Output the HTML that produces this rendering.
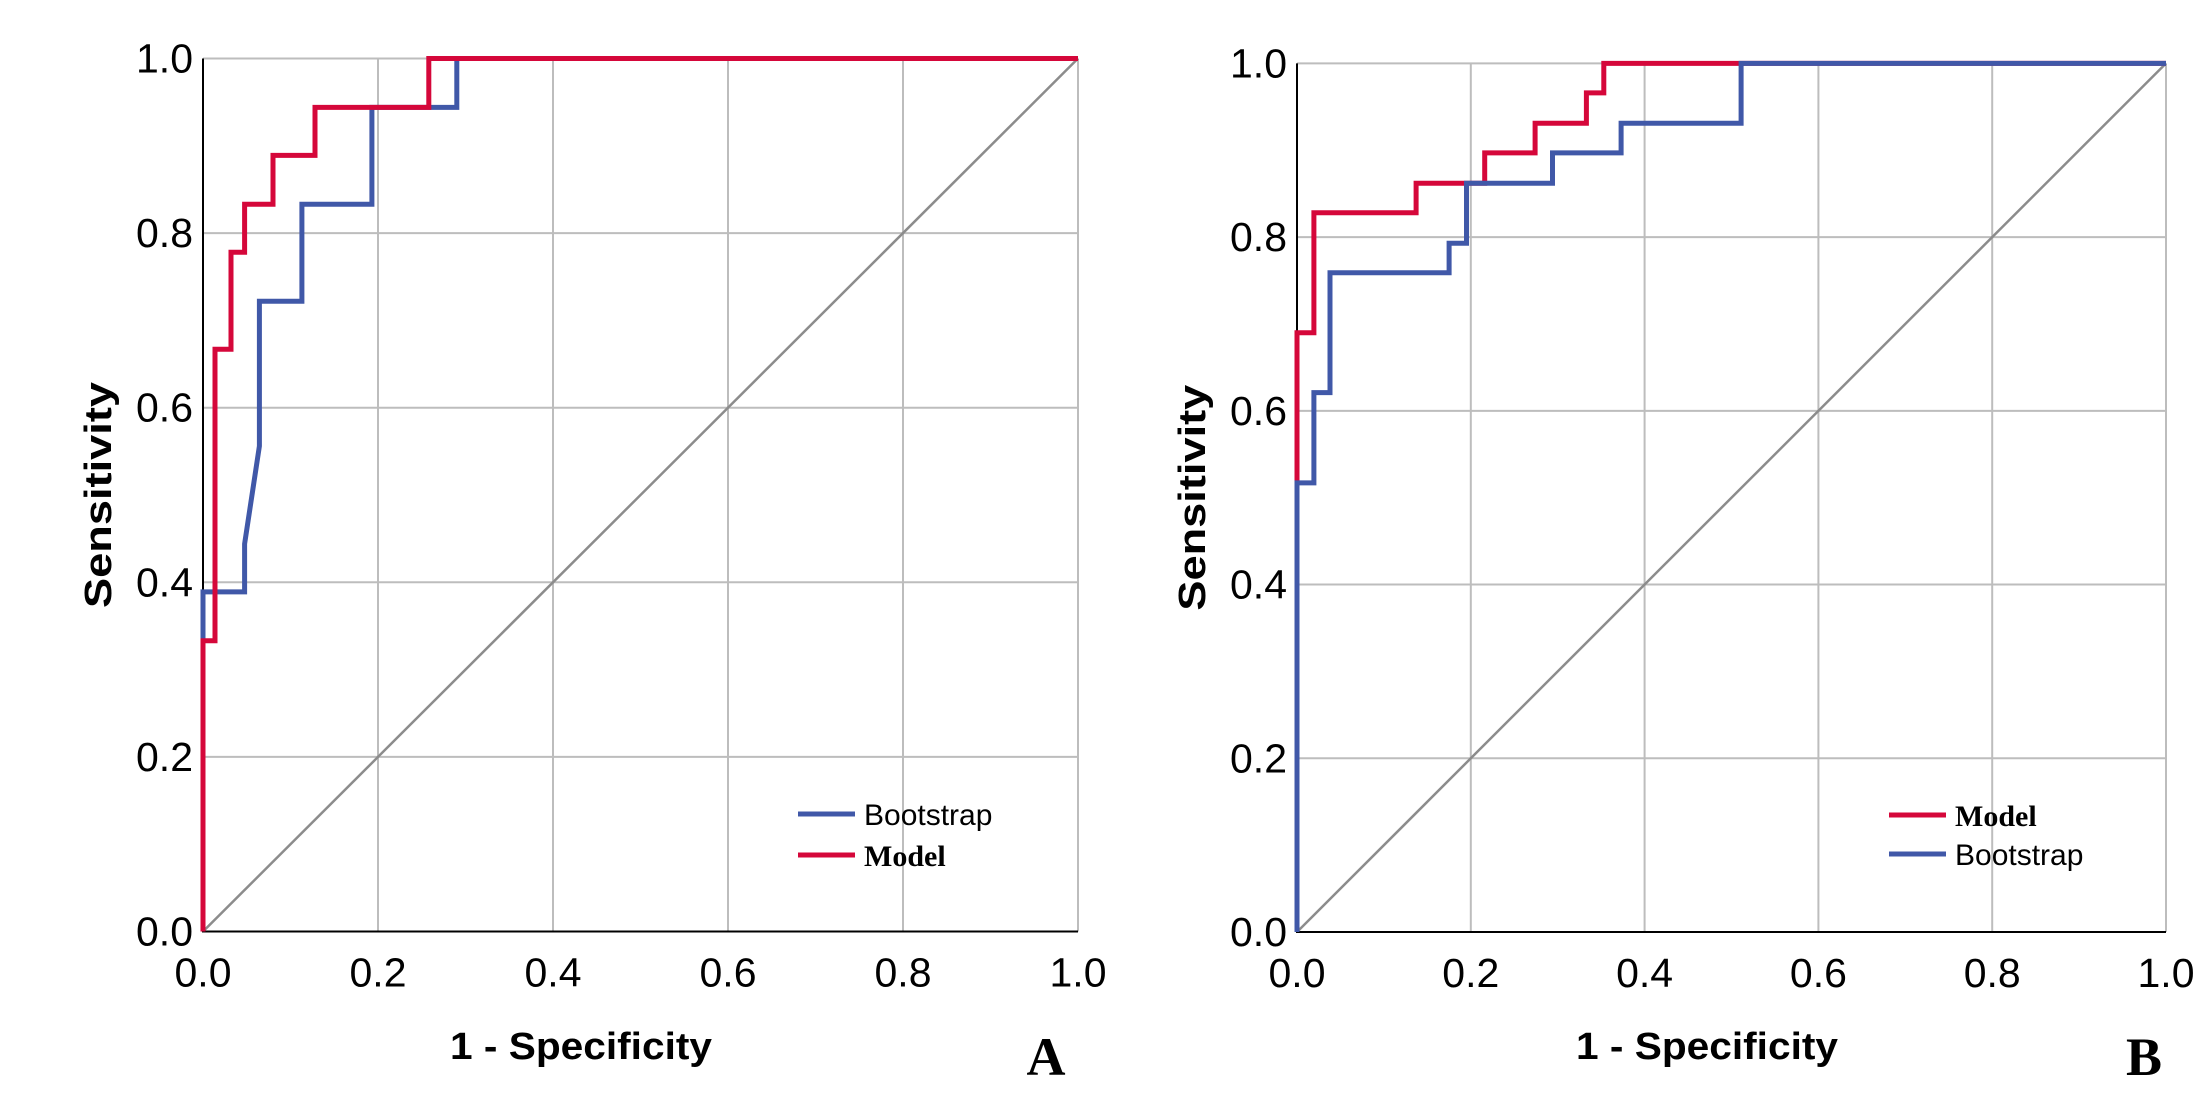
<!DOCTYPE html>
<html><head><meta charset="utf-8"><style>
html,body{margin:0;padding:0;background:#fff;width:2210px;height:1107px;overflow:hidden}
svg{display:block}
</style></head><body>
<svg id="chart" width="2210" height="1107" xmlns="http://www.w3.org/2000/svg"></svg>
<script>
// Panel A data
const aModelX = [0,0,0.0137,0.0137,0.032,0.032,0.0475,0.0475,0.080,0.080,0.128,0.128,0.258,0.258,1];
const aModelY = [0,0.333,0.333,0.667,0.667,0.778,0.778,0.833,0.833,0.889,0.889,0.944,0.944,1,1];
const aBootX = [0,0,0.0475,0.0475,0.0644,0.0644,0.113,0.113,0.193,0.193,0.29,0.29,1];
const aBootY = [0,0.389,0.389,0.444,0.556,0.722,0.722,0.833,0.833,0.944,0.944,1,1];
// Panel B data
const bModelX = [0,0,0.0194,0.0194,0.137,0.137,0.216,0.216,0.274,0.274,0.333,0.333,0.353,0.353,1];
const bModelY = [0.517,0.69,0.69,0.828,0.828,0.862,0.862,0.897,0.897,0.931,0.931,0.966,0.966,1,1];
const bBootX = [0,0,0.0194,0.0194,0.038,0.038,0.175,0.175,0.195,0.195,0.294,0.294,0.373,0.373,0.511,0.511,1];
const bBootY = [0,0.517,0.517,0.621,0.621,0.759,0.759,0.793,0.793,0.862,0.862,0.897,0.897,0.931,0.931,1,1];
const ticks = [0,0.2,0.4,0.6,0.8,1.0];
const tickLabels = ["0.0","0.2","0.4","0.6","0.8","1.0"];

const NS="http://www.w3.org/2000/svg";
const svg=document.getElementById('chart');
const RED="#D5073A", BLUE="#4058A8";
function mk(tag,attrs,parent){const e=document.createElementNS(NS,tag);for(const k in attrs)e.setAttribute(k,attrs[k]);(parent||svg).appendChild(e);return e;}

function panel(id,x0,x1,y0,y1,series,legend,letter,letterX,xTitleX){
  const g=mk('g',{});
  
  
  const sx=v=>x0+v*(x1-x0), sy=v=>y0-v*(y0-y1);
  ticks.forEach((t,i)=>{
    if(i>0){const l=mk('line',{x1:sx(t),x2:sx(t),y1:y0,y2:y1,stroke:'#bdbdbd','stroke-width':2},g);
      
      const m=mk('line',{x1:x0,x2:x1,y1:sy(t),y2:sy(t),stroke:'#bdbdbd','stroke-width':2},g);
      }
    const tx=mk('text',{x:sx(t),y:y0+55,'text-anchor':'middle','font-family':'Liberation Sans, sans-serif','font-size':41},g);
    tx.textContent=tickLabels[i];
    
    const ty=mk('text',{x:x0-10,y:sy(t)+14,'text-anchor':'end','font-family':'Liberation Sans, sans-serif','font-size':41},g);
    ty.textContent=tickLabels[i];
    
  });
  const d=mk('line',{x1:sx(0),y1:sy(0),x2:sx(1),y2:sy(1),stroke:'#8c8c8c','stroke-width':2.5},g);
  
  const ax=mk('path',{d:`M${x0},${y1}V${y0}H${x1}`,fill:'none',stroke:'#000','stroke-width':2},g);
  
  series.forEach(s=>{
    const pts=s.x.map((v,i)=>sx(v).toFixed(1)+','+sy(s.y[i]).toFixed(1)).join(' ');
    const p=mk('polyline',{points:pts,fill:'none',stroke:s.c,'stroke-width':5,'stroke-linejoin':'miter'},g);
    
  });
  legend.forEach(L=>{
    const l=mk('line',{x1:L.lx,x2:L.lx+57,y1:L.y,y2:L.y,stroke:L.c,'stroke-width':5},g);
    
    const t=mk('text',{x:L.lx+66,y:L.y+11,'font-family':L.serif?'Liberation Serif, serif':'Liberation Sans, sans-serif','font-weight':L.serif?'bold':'normal','font-size':30},g);
    t.textContent=L.t;
    
  });
  const yt=mk('text',{x:0,y:0,transform:`translate(${x0-92},${(y0+y1)/2}) rotate(-90)`,'text-anchor':'middle','font-family':'Liberation Sans, sans-serif','font-weight':'bold','font-size':38,textLength:226,lengthAdjust:'spacingAndGlyphs'},g);
  yt.textContent='Sensitivity';
  
  const xt=mk('text',{x:xTitleX,y:1059,'text-anchor':'middle','font-family':'Liberation Sans, sans-serif','font-weight':'bold','font-size':38,textLength:262,lengthAdjust:'spacingAndGlyphs'},g);
  xt.textContent='1 - Specificity';
  
  const lt=mk('text',{x:letterX,y:1075,'text-anchor':'middle','font-family':'Liberation Serif, serif','font-weight':'bold','font-size':54},g);
  lt.textContent=letter;
  
}
panel('a',203,1078,931.5,58.5,
  [{x:aBootX,y:aBootY,c:BLUE,name:'bootstrap'},{x:aModelX,y:aModelY,c:RED,name:'model'}],
  [{lx:798,y:814,c:BLUE,t:'Bootstrap'},{lx:798,y:855,c:RED,t:'Model',serif:true}],'A',1046,581);
panel('b',1297,2166,932,63.4,
  [{x:bModelX,y:bModelY,c:RED,name:'model'},{x:bBootX,y:bBootY,c:BLUE,name:'bootstrap'}],
  [{lx:1889,y:815,c:RED,t:'Model',serif:true},{lx:1889,y:854,c:BLUE,t:'Bootstrap'}],'B',2144,1707);
</script>
</body></html>
